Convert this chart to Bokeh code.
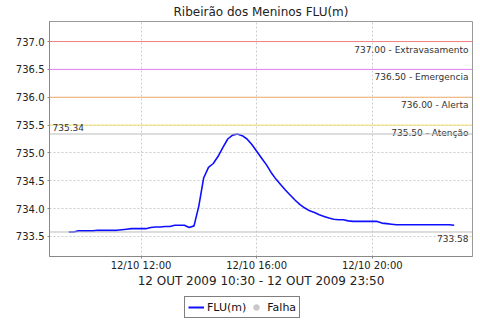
from datetime import datetime
from bokeh.plotting import figure
from bokeh.layouts import column
from bokeh.models import (Span, Label, Legend, LegendItem, FixedTicker,
                          DatetimeTickFormatter, Range1d, Title,
                          CustomJSTickFormatter)
from bokeh.embed import file_html
from bokeh.resources import INLINE

# ---- data ----
times = ["09:30", "09:40", "09:50", "10:00", "10:10", "10:20", "10:30", "10:40",
         "10:50", "11:00", "11:10", "11:20", "11:30", "11:40", "11:50", "12:00",
         "12:10", "12:20", "12:30", "12:40", "12:50", "13:00", "13:10", "13:20",
         "13:30", "13:40", "13:50", "14:00", "14:10", "14:20", "14:30", "14:40",
         "14:50", "15:00", "15:10", "15:20", "15:30", "15:40", "15:50", "16:00",
         "16:10", "16:20", "16:30", "16:40", "16:50", "17:00", "17:10", "17:20",
         "17:30", "17:40", "17:50", "18:00", "18:10", "18:20", "18:30", "18:40",
         "18:50", "19:00", "19:10", "19:20", "19:30", "19:40", "19:50", "20:00",
         "20:10", "20:20", "20:30", "20:40", "20:50", "21:00", "21:10", "21:20",
         "21:30", "21:40", "21:50", "22:00", "22:10", "22:20", "22:30", "22:40",
         "22:50"]
levels = [733.58, 733.58, 733.60, 733.60, 733.60, 733.60, 733.61, 733.61,
          733.61, 733.61, 733.61, 733.62, 733.63, 733.64, 733.64, 733.64,
          733.64, 733.66, 733.67, 733.67, 733.68, 733.68, 733.70, 733.70,
          733.70, 733.66, 733.69, 734.05, 734.55, 734.74, 734.81, 734.94,
          735.10, 735.25, 735.32, 735.34, 735.31, 735.25, 735.15, 735.03,
          734.91, 734.79, 734.65, 734.53, 734.43, 734.33, 734.24, 734.15,
          734.07, 734.01, 733.96, 733.93, 733.89, 733.86, 733.83, 733.81,
          733.80, 733.80, 733.78, 733.77, 733.77, 733.77, 733.77, 733.77,
          733.77, 733.74, 733.73, 733.72, 733.71, 733.71, 733.71, 733.71,
          733.71, 733.71, 733.71, 733.71, 733.71, 733.71, 733.71, 733.71,
          733.70]
thresholds = [737.00, 736.50, 736.00, 735.50]
threshold_names = ["Extravasamento", "Emergencia", "Alerta", "Atenção"]
threshold_colors = ["#f08080", "#e080f0", "#f0b070", "#f0e070"]
max_level = 735.34
min_level = 733.58
y_ticks = [733.5, 734.0, 734.5, 735.0, 735.5, 736.0, 736.5, 737.0]
x_tick_times = ["12:00", "16:00", "20:00"]
x_start, x_end = "08:50", "23:28"
title_text = "Ribeirão dos Meninos FLU(m)"
x_label = "12 OUT 2009 10:30 - 12 OUT 2009 23:50"
series_label = "FLU(m)"
fail_label = "Falha"


def to_dt(hm):
    h, m = hm.split(":")
    return datetime(2009, 10, 12, int(h), int(m))


def to_ms(hm):
    return (to_dt(hm) - datetime(1970, 1, 1)).total_seconds() * 1000.0


xs = [to_dt(t) for t in times]

FONT = "DejaVu Sans"
LINE_COLOR = "#0f0fff"
FAIL_COLOR = "#c8c8c8"

p = figure(width=480, height=294, output_backend="svg", toolbar_location=None,
           x_axis_type="datetime",
           x_range=Range1d(to_ms(x_start), to_ms(x_end)),
           y_range=Range1d(733.14, 737.36))
p.min_border_left = 49
p.min_border_right = 8
p.min_border_top = 19
p.min_border_bottom = 38
p.background_fill_color = "white"
p.border_fill_color = "white"
p.outline_line_color = "#999999"
p.outline_line_width = 1

p.add_layout(Title(text=title_text, align="center", offset=-20,
                   text_font=FONT, text_font_size="12px",
                   text_font_style="normal", text_color="#222222",
                   standoff=5), "above")

# grid
p.xgrid.grid_line_color = "#cccccc"
p.xgrid.grid_line_dash = "2 2"
p.ygrid.grid_line_color = "#cccccc"
p.ygrid.grid_line_dash = "2 2"

# axes
p.xaxis.ticker = FixedTicker(ticks=[to_ms(t) for t in x_tick_times])
p.xaxis.formatter = DatetimeTickFormatter(hours="%d/%m %H:%M", days="%d/%m %H:%M",
                                          minutes="%d/%m %H:%M")
p.xaxis.axis_label = x_label
p.yaxis.ticker = FixedTicker(ticks=y_ticks)
p.yaxis.formatter = CustomJSTickFormatter(code="return tick.toFixed(1)")
for ax in (p.xaxis[0], p.yaxis[0]):
    ax.axis_line_color = "#888888"
    ax.major_tick_line_color = "#888888"
    ax.major_tick_in = 0
    ax.major_tick_out = 2
    ax.minor_tick_line_color = None
    ax.major_label_text_font = FONT
    ax.major_label_text_font_size = "10px"
    ax.major_label_text_color = "#222222"
    ax.major_label_standoff = 3
p.xaxis.major_label_standoff = 1
p.xaxis.axis_label_text_font = FONT
p.xaxis.axis_label_text_font_size = "12px"
p.xaxis.axis_label_text_font_style = "normal"
p.xaxis.axis_label_text_color = "#222222"
p.xaxis.axis_label_standoff = 0

# thresholds
for v, name, c in zip(thresholds, threshold_names, threshold_colors):
    p.add_layout(Span(location=v, dimension="width", line_color=c, line_width=1))
    p.add_layout(Label(x=to_ms(x_end), y=v, text=f"{v:.2f} - {name}",
                       x_offset=-4, y_offset=-3, text_align="right",
                       text_baseline="top", text_font=FONT,
                       text_font_size="9px", text_color="#333333"))

# max/min markers
p.add_layout(Span(location=max_level, dimension="width", line_color="#bbbbbb", line_width=1))
p.add_layout(Span(location=min_level, dimension="width", line_color="#bbbbbb", line_width=1))
p.add_layout(Label(x=to_ms(x_start), y=max_level, text=f"{max_level:.2f}",
                   x_offset=3, y_offset=3, text_align="left", text_baseline="bottom",
                   text_font=FONT, text_font_size="9px", text_color="#333333"))
p.add_layout(Label(x=to_ms(x_end), y=min_level, text=f"{min_level:.2f}",
                   x_offset=-4, y_offset=-3, text_align="right", text_baseline="top",
                   text_font=FONT, text_font_size="9px", text_color="#333333"))

p.line(xs, levels, line_color=LINE_COLOR, line_width=1.6)

# ---- legend strip (separate small figure) ----
lg = figure(width=480, height=26, output_backend="svg", toolbar_location=None,
            x_axis_type="datetime",
            x_range=Range1d(0, 1), y_range=Range1d(0, 1),
            x_axis_location=None, y_axis_location=None, min_border=0)
lg.outline_line_color = None
lg.grid.visible = False
# legend proxies (their data lie outside this strip's ranges, so only legend glyphs show)
r_line = lg.line(xs, levels, line_color=LINE_COLOR, line_width=2)
r_fail = lg.scatter(xs[:1], levels[:1], marker="circle", size=8,
                    fill_color=FAIL_COLOR, line_color=FAIL_COLOR)
legend = Legend(items=[LegendItem(label=series_label, renderers=[r_line]),
                       LegendItem(label=fail_label, renderers=[r_fail])],
                orientation="horizontal", location=(135, 2),
                label_text_font=FONT, label_text_font_size="11px",
                label_text_color="#111111",
                border_line_color="black", border_line_width=1,
                padding=3, spacing=2, margin=0,
                glyph_width=16, glyph_height=14, label_standoff=3,
                label_height=14)
lg.add_layout(legend, "center")

layout = column(p, lg, spacing=0)
open("out.html", "w").write(file_html(layout, INLINE))
